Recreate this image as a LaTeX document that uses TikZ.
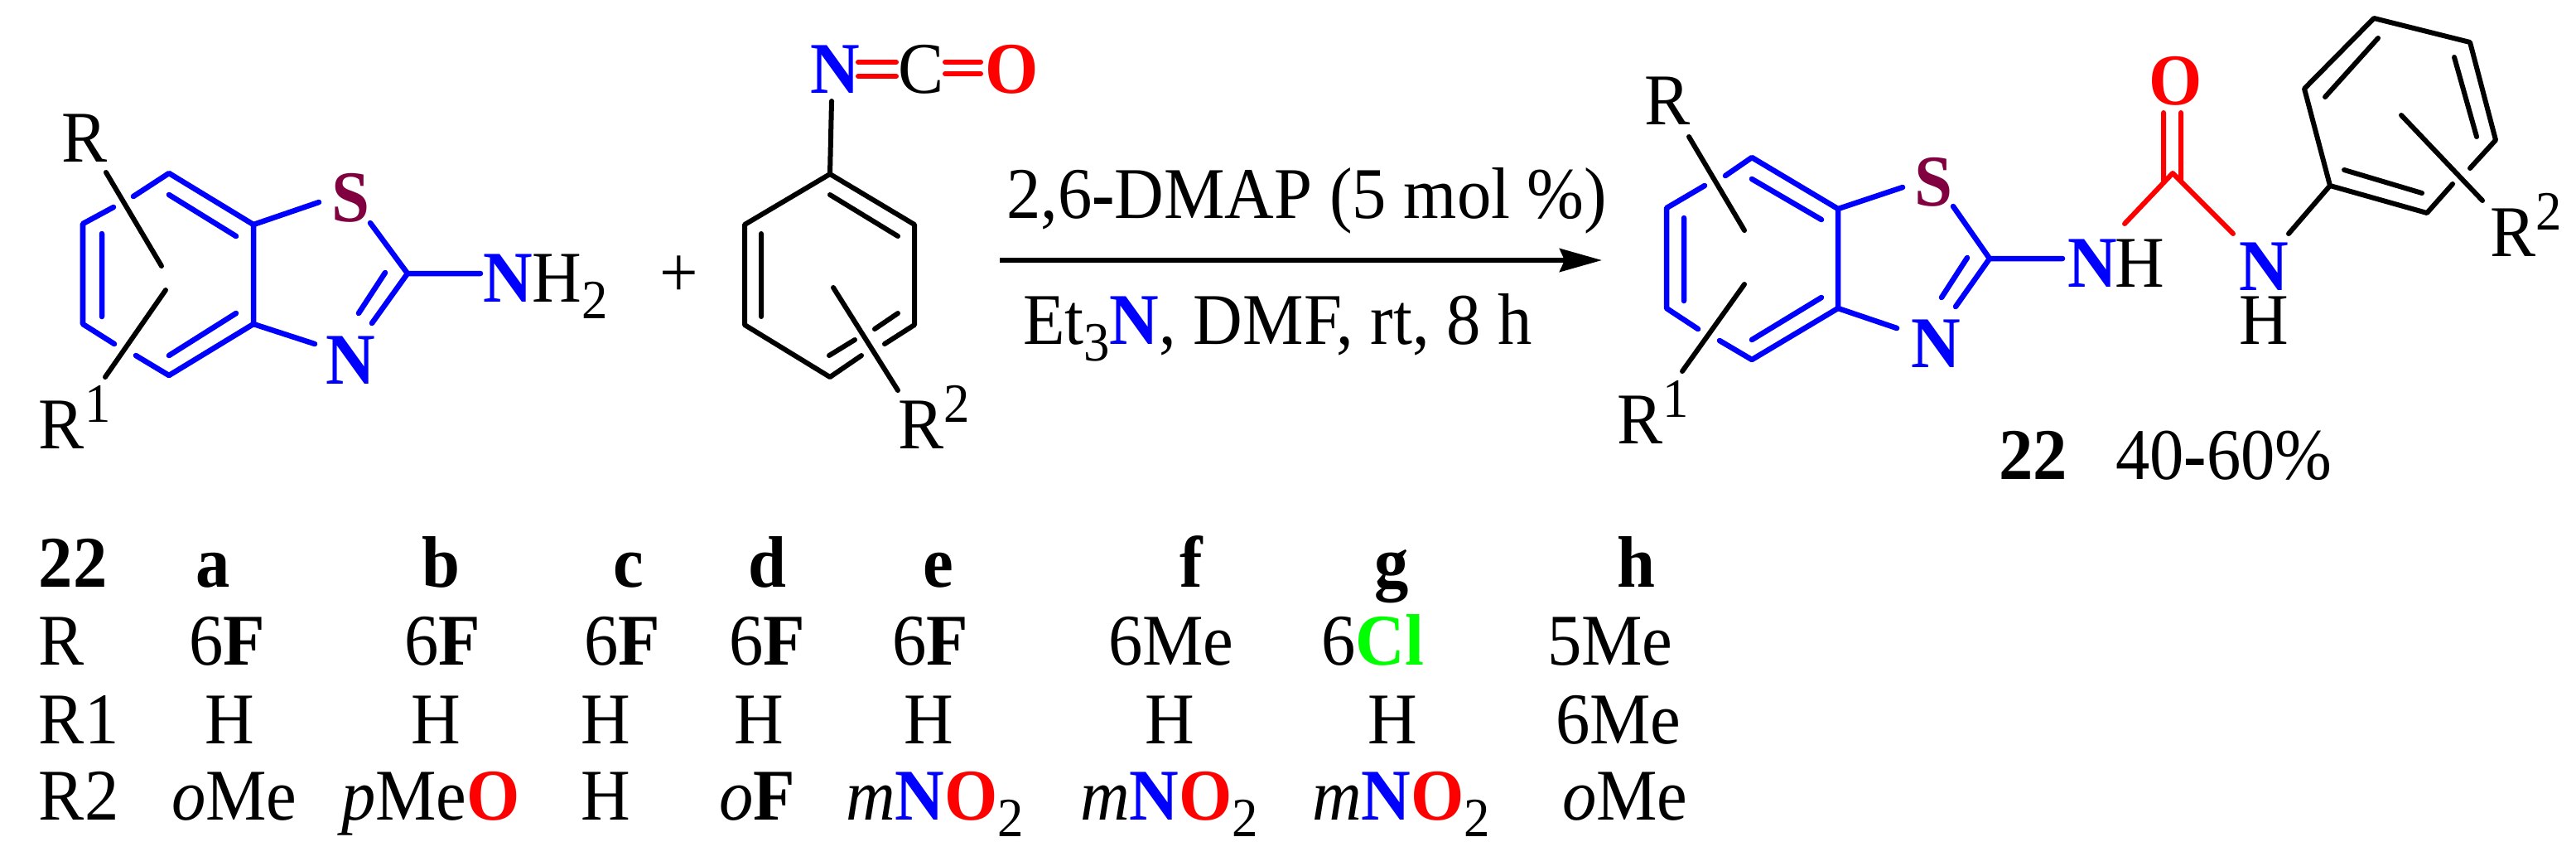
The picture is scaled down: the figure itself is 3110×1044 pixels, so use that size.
\documentclass[tikz,border=0pt]{standalone}
\usepackage{fontspec}
\setmainfont[FakeStretch=0.94]{Liberation Serif}
\usetikzlibrary{arrows.meta}
\definecolor{sulfur}{HTML}{800040}
\newcommand{\Nb}{\textcolor{blue}{\textbf{N}}}
\newcommand{\Ob}{\textcolor{red}{\textbf{O}}}
\newcommand{\Sb}{\textcolor{sulfur}{\textbf{S}}}
\newcommand{\upnum}[1]{\raisebox{0.32cm}{\fontsize{19}{20}\selectfont #1}}
\newcommand{\downnum}[1]{\raisebox{-0.2cm}{\fontsize{19}{20}\selectfont #1}}
\tikzset{
  lbl/.style={inner sep=0pt,outer sep=0pt,anchor=base west,font=\fontsize{25}{28}\selectfont},
  bondblue/.style={draw=blue,line width=0.065cm,line cap=round,line join=round},
  bondblack/.style={draw=black,line width=0.06cm,line cap=round,line join=round},
  bondred/.style={draw=red,line width=0.06cm,line cap=round,line join=round},
  rxnarrow/.style={draw=black,line width=0.06cm,-{Stealth[length=0.51cm,width=0.28cm,inset=0.06cm]}}
}
\begin{document}
\begin{tikzpicture}[x=0.01cm,y=-0.01cm]
\useasboundingbox (0,0) rectangle (3110,1044);
% ---------- left benzothiazole ----------
\foreach \n/\x/\y in {
  a1/204/209,a2/306/271,a3/306/391,a4/204/453,a5/100/391,a6/100/270,
  a7/137/250,a8/161/237,a9/138/415,a10/164/429,
  a11/204/235,a12/285/285,a13/285/378,a14/204/429,a15/123/282,a16/123/382,
  a17/385/244,a18/447/269,a19/492/330,a20/449/390,a21/465/329,a22/433/378,
  a23/380/415,a24/580/330,
  r1/128/208,r2/195/321,r3/200/350,r4/127/455,
  % isocyanate ring
  b1/1002/210,b2/1104/271,b3/1104/392,b4/1002/455,b5/899/392,b6/899/271,
  b7/1004/122,b8/1002/235,b9/1084/285,b10/919/282,b11/919/382,
  b12/1084/378,b13/1056/397,b14/1032/410,b15/1001/429,b16/1068/415,b17/1040/429,
  b18/1006/347,b19/1084/471,
  e1/1036/75,e2/1082/75,e3/1036/92,e4/1082/92,e5/1141/75,e6/1184/75,e7/1141/89,e8/1184/89,
  % arrow
  arrS/1207/314,arrE/1934/314,
  % product benzothiazole
  c1/2115/190,c2/2219/252,c3/2219/372,c4/2115/434,c5/2012/372,c6/2012/251,
  c7/2058/224,c8/2083/212,c9/2050/397,c10/2076/411,
  c11/2115/216,c12/2199/265,c13/2199/359,c14/2115/410,c15/2033/263,c16/2033/363,
  c17/2297/226,c18/2358/249,c19/2402/312,c20/2361/370,c21/2375/311,c22/2344/359,
  c23/2290/396,c24/2490/312,
  s1/2039/165,s2/2106/278,s3/2106/343,s4/2031/448,
  % urea
  u1/2623/209,u2/2565/270,u3/2696/282,u4/2612/136,u5/2612/218,u6/2633/136,u7/2633/219,
  % phenyl
  p1/2813/224,p2/2930/257,p3/2961/222,p4/2982/203,p5/3013/169,p6/2982/51,p7/2866/22,p8/2782/107,
  p9/2763/282,p10/2830/205,p11/2924/233,p12/2807/117,p13/2871/46,p14/2963/69,p15/2990/165,
  p16/2899/139,p17/2997/242
}{\coordinate (\n) at (\x,\y);}
% left molecule bonds
\path[bondblue] (a7)--(a6)--(a5)--(a9);
\path[bondblue] (a8)--(a1)--(a2)--(a3)--(a4)--(a10);
\path[bondblue] (a11)--(a12) (a13)--(a14) (a15)--(a16);
\path[bondblue] (a2)--(a17) (a18)--(a19)--(a20) (a21)--(a22) (a3)--(a23) (a19)--(a24);
\path[bondblack] (r1)--(r2) (r3)--(r4);
% isocyanate bonds
\path[bondblack] (b7)--(b1) (b16)--(b3)--(b2)--(b1)--(b6)--(b5)--(b4)--(b17);
\path[bondblack] (b8)--(b9) (b10)--(b11) (b12)--(b13) (b14)--(b15) (b18)--(b19);
\path[bondred] (e1)--(e2) (e3)--(e4) (e5)--(e6) (e7)--(e8);
% arrow
\path[rxnarrow] (arrS)--(arrE);
% product bonds
\path[bondblue] (c7)--(c6)--(c5)--(c9);
\path[bondblue] (c8)--(c1)--(c2)--(c3)--(c4)--(c10);
\path[bondblue] (c11)--(c12) (c13)--(c14) (c15)--(c16);
\path[bondblue] (c2)--(c17) (c18)--(c19)--(c20) (c21)--(c22) (c3)--(c23) (c19)--(c24);
\path[bondblack] (s1)--(s2) (s3)--(s4);
\path[bondred] (u2)--(u1)--(u3) (u4)--(u5) (u6)--(u7);
\path[bondblack] (p9)--(p1)--(p2)--(p3) (p4)--(p5)--(p6)--(p7)--(p8)--(p1);
\path[bondblack] (p10)--(p11) (p12)--(p13) (p14)--(p15) (p16)--(p17);
% ---------- molecule labels ----------
\node[lbl] (tR) at (74,195) {R};
\node[lbl] (tRa) at (47,541) {R\upnum{1}};
\node[lbl] (tS) at (400,267) {\Sb};
\node[lbl] (tN) at (393,463) {\Nb};
\node[lbl] (tNH) at (583,364) {\Nb H\downnum{2}};
\node[lbl] (tPlus) at (796,358) {+};
\node[lbl] (tNi) at (978,112) {\Nb};
\node[lbl] (tCi) at (1084,112) {C};
\node[lbl] (tOi) at (1189,112) {\Ob};
\node[lbl] (tRb) at (1084,541) {R\upnum{2}};
\node[lbl] (tTop) at (1215,263) {2,6\textbf{-}DMAP (5 mol \%)};
\node[lbl] (tBot) at (1235,415) {Et\downnum{3}\Nb, DMF, rt, 8 h};
\node[lbl] (tRc) at (1985,150) {R};
\node[lbl] (tRd) at (1952,535) {R\upnum{1}};
\node[lbl] (tSp) at (2311,248) {\Sb};
\node[lbl] (tNp) at (2307,443) {\Nb};
\node[lbl] (tNHa) at (2496,346) {\Nb\kern-0.02cm H};
\node[lbl] (tO) at (2594,126) {\Ob};
\node[lbl] (tNb) at (2703,350) {\Nb\llap{\raisebox{-0.65cm}{H}}};
\node[lbl] (tRe) at (3006,309) {R\upnum{2}};
\node[lbl] (tCmpd) at (2413,578) {\textbf{22}};
\node[lbl] (tYield) at (2554,578) {40\textbf{-}60\%};
% ---------- table ----------
\node[lbl] (h0) at (47,708) {\textbf{22}};
\node[lbl] (h1) at (236,708) {\textbf{a}};
\node[lbl] (h2) at (509,708) {\textbf{b}};
\node[lbl] (h3) at (740,708) {\textbf{c}};
\node[lbl] (h4) at (903,708) {\textbf{d}};
\node[lbl] (h5) at (1114,708) {\textbf{e}};
\node[lbl] (h6) at (1424,708) {\textbf{f}};
\node[lbl] (h7) at (1659,708) {\textbf{g}};
\node[lbl] (h8) at (1952,708) {\textbf{h}};
\node[lbl] (k0) at (47,802) {R};
\node[lbl] (k1) at (228,802) {6\textbf{F}};
\node[lbl] (k2) at (488,802) {6\textbf{F}};
\node[lbl] (k3) at (705,802) {6\textbf{F}};
\node[lbl] (k4) at (880,802) {6\textbf{F}};
\node[lbl] (k5) at (1077,802) {6\textbf{F}};
\node[lbl] (k6) at (1338,802) {6Me};
\node[lbl] (k7) at (1595,802) {6\textcolor{green}{\textbf{Cl}}};
\node[lbl] (k8) at (1868,802) {5Me};
\node[lbl] (m0) at (47,897) {R1};
\node[lbl] (m1) at (247,897) {H};
\node[lbl] (m2) at (496,897) {H};
\node[lbl] (m3) at (701,897) {H};
\node[lbl] (m4) at (886,897) {H};
\node[lbl] (m5) at (1091,897) {H};
\node[lbl] (m6) at (1382,897) {H};
\node[lbl] (m7) at (1651,897) {H};
\node[lbl] (m8) at (1878,897) {6Me};
\node[lbl] (n0) at (47,989) {R2};
\node[lbl] (n1) at (207,989) {\textit{o}Me};
\node[lbl] (n2) at (412,989) {\textit{p}Me\Ob};
\node[lbl] (n3) at (701,989) {H};
\node[lbl] (n4) at (868,989) {\textit{o}\textbf{F}};
\node[lbl] (n5) at (1021,989) {\textit{m}\Nb\Ob\downnum{2}};
\node[lbl] (n6) at (1304,989) {\textit{m}\Nb\Ob\downnum{2}};
\node[lbl] (n7) at (1584,989) {\textit{m}\Nb\Ob\downnum{2}};
\node[lbl] (n8) at (1886,989) {\textit{o}Me};
\end{tikzpicture}
\end{document}
